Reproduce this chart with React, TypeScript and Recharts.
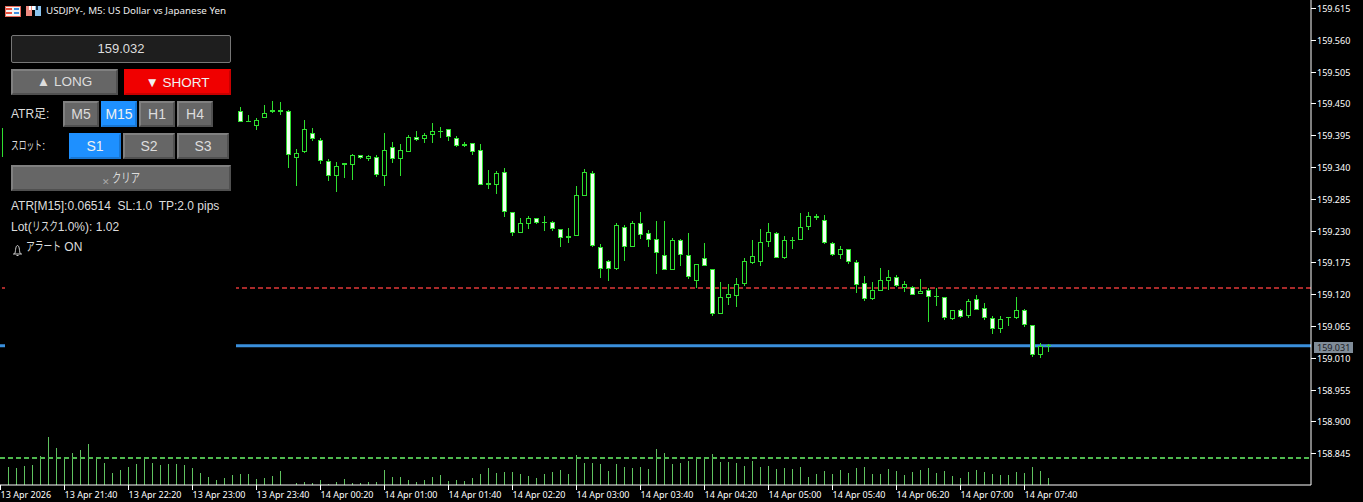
import { Bar, ComposedChart, Label, ReferenceLine, XAxis, YAxis } from 'recharts';

// bars behind the panel are not readable, only their volume is
const hidden = Array(29).fill(null);

const opens = [159.357, ...hidden,
  159.437, 159.419, 159.411, 159.424, 159.438, 159.438, 159.437, 159.356, 159.366, 159.398,
  159.386, 159.351, 159.325, 159.347, 159.344, 159.36, 159.354, 159.357, 159.325, 159.374,
  159.354, 159.366, 159.391, 159.388, 159.396, 159.403, 159.405, 159.39, 159.38, 159.381,
  159.369, 159.313, 159.309, 159.331, 159.262, 159.226, 159.242, 159.251, 159.245, 159.244,
  159.232, 159.221, 159.221, 159.29, 159.329, 159.201, 159.177, 159.164, 159.237, 159.201,
  159.243, 159.225, 159.215, 159.187, 159.161, 159.213, 159.187, 159.143, 159.182, 159.163,
  159.085, 159.113, 159.117, 159.137, 159.174, 159.175, 159.211, 159.225, 159.183, 159.214,
  159.213, 159.237, 159.256, 159.249, 159.208, 159.187, 159.198, 159.175, 159.139, 159.112,
  159.126, 159.143, 159.149, 159.13, 159.132, 159.121, 159.127, 159.117, 159.116, 159.077,
  159.092, 159.083, 159.111, 159.096, 159.078, 159.059, 159.08, 159.079, 159.092, 159.066,
  159.015, 159.032,
];
const highs = [159.407, ...hidden,
  159.443, 159.43, 159.425, 159.447, 159.454, 159.452, 159.438, 159.371, 159.421, 159.408,
  159.39, 159.354, 159.349, 159.347, 159.362, 159.361, 159.361, 159.361, 159.399, 159.383,
  159.379, 159.395, 159.402, 159.399, 159.416, 159.409, 159.406, 159.393, 159.383, 159.382,
  159.379, 159.335, 159.333, 159.338, 159.262, 159.251, 159.256, 159.252, 159.255, 159.246,
  159.233, 159.234, 159.307, 159.336, 159.333, 159.206, 159.179, 159.243, 159.239, 159.247,
  159.262, 159.231, 159.247, 159.247, 159.218, 159.216, 159.226, 159.173, 159.209, 159.163,
  159.141, 159.137, 159.148, 159.183, 159.214, 159.233, 159.243, 159.228, 159.22, 159.219,
  159.26, 159.262, 159.259, 159.257, 159.21, 159.203, 159.199, 159.179, 159.152, 159.141,
  159.165, 159.162, 159.153, 159.143, 159.135, 159.146, 159.13, 159.13, 159.116, 159.093,
  159.095, 159.111, 159.119, 159.105, 159.083, 159.082, 159.08, 159.115, 159.094, 159.066,
  159.035, 159.033,
];
const lows = [159.357, ...hidden,
  159.418, 159.417, 159.404, 159.424, 159.433, 159.43, 159.338, 159.307, 159.364, 159.385,
  159.346, 159.316, 159.296, 159.321, 159.317, 159.354, 159.35, 159.323, 159.307, 159.347,
  159.324, 159.366, 159.385, 159.381, 159.381, 159.39, 159.385, 159.375, 159.375, 159.361,
  159.309, 159.302, 159.293, 159.254, 159.221, 159.226, 159.233, 159.242, 159.23, 159.23,
  159.202, 159.209, 159.22, 159.29, 159.202, 159.148, 159.142, 159.161, 159.177, 159.201,
  159.216, 159.202, 159.155, 159.161, 159.161, 159.168, 159.147, 159.131, 159.168, 159.083,
  159.085, 159.101, 159.097, 159.135, 159.172, 159.169, 159.201, 159.182, 159.181, 159.198,
  159.213, 159.231, 159.248, 159.207, 159.186, 159.181, 159.172, 159.122, 159.109, 159.11,
  159.126, 159.127, 159.132, 159.124, 159.119, 159.121, 159.072, 159.1, 159.075, 159.075,
  159.079, 159.079, 159.093, 159.075, 159.051, 159.053, 159.065, 159.077, 159.063, 159.011,
  159.009, 159.02,
];
const closes = [159.407, ...hidden,
  159.418, 159.417, 159.422, 159.434, 159.435, 159.435, 159.36, 159.365, 159.405, 159.389,
  159.351, 159.325, 159.341, 159.344, 159.36, 159.356, 159.359, 159.327, 159.369, 159.353,
  159.37, 159.391, 159.387, 159.396, 159.402, 159.402, 159.391, 159.376, 159.377, 159.366,
  159.309, 159.309, 159.329, 159.263, 159.226, 159.243, 159.251, 159.243, 159.244, 159.232,
  159.218, 159.218, 159.291, 159.331, 159.204, 159.164, 159.164, 159.239, 159.201, 159.243,
  159.223, 159.214, 159.192, 159.162, 159.213, 159.188, 159.149, 159.173, 159.169, 159.085,
  159.115, 159.12, 159.137, 159.177, 159.186, 159.211, 159.227, 159.182, 159.213, 159.213,
  159.237, 159.256, 159.251, 159.209, 159.188, 159.198, 159.175, 159.136, 159.112, 159.128,
  159.144, 159.149, 159.135, 159.137, 159.119, 159.125, 159.115, 159.115, 159.078, 159.092,
  159.081, 159.108, 159.093, 159.078, 159.059, 159.077, 159.078, 159.092, 159.066, 159.015,
  159.03, 159.031,
];
const volumes = [
  0, 180, 170, 190, 200, 290, 480, 370, 280, 320,
  350, 410, 270, 220, 120, 150, 180, 210, 270, 220,
  200, 210, 210, 200, 170, 120, 80, 50, 70, 100,
  110, 110, 60, 70, 90, 140, 0, 20, 30, 20,
  50, 10, 30, 60, 20, 20, 30, 30, 150, 80,
  80, 50, 30, 50, 80, 100, 40, 50, 40, 70,
  110, 170, 120, 130, 130, 110, 90, 70, 110, 130,
  150, 110, 300, 220, 220, 210, 140, 210, 180, 170,
  180, 160, 360, 320, 210, 220, 240, 270, 270, 310,
  230, 230, 220, 190, 240, 180, 190, 160, 170, 160,
  180, 80, 110, 140, 110, 150, 120, 170, 180, 110,
  110, 160, 140, 100, 130, 150, 170, 120, 140, 90,
  70, 130, 150, 130, 110, 100, 100, 130, 120, 180,
  140, 70,
];
const timeLabels = [
  '13 Apr 2026', '13 Apr 21:40', '13 Apr 22:20', '13 Apr 23:00', '13 Apr 23:40', '14 Apr 00:20',
  '14 Apr 01:00', '14 Apr 01:40', '14 Apr 02:20', '14 Apr 03:00', '14 Apr 03:40', '14 Apr 04:20',
  '14 Apr 05:00', '14 Apr 05:40', '14 Apr 06:20', '14 Apr 07:00', '14 Apr 07:40',
];
const priceTicks = [
  159.615, 159.56, 159.505, 159.45, 159.395, 159.34, 159.285, 159.23, 159.175, 159.12,
  159.065, 159.01, 158.955, 158.9, 158.845,
];
const bid = 159.031;
const slotLine = 159.1307;
const volumeLine = 270;

const rows = volumes.map((volume, i) => ({
  i,
  volume,
  open: opens[i],
  high: highs[i],
  low: lows[i],
  close: closes[i],
  range: opens[i] == null ? null : [lows[i], highs[i]],
}));

const GREEN = '#2fe02f';
const BEAR_FILL = '#f2fff2';
const AXIS_FONT = '"Noto Sans", sans-serif';
const UI_FONT = '"Liberation Sans", "Noto Sans CJK JP", sans-serif';

function Candle(props: any) {
  const { x, y, width, height, payload } = props;
  if (payload.open == null) return null;
  const unit = height / (payload.high - payload.low);
  const yOf = (p: number) => y + (payload.high - p) * unit;
  const cx = Math.floor(x + width / 2);
  const top = Math.round(yOf(Math.max(payload.open, payload.close)));
  const bottom = Math.round(yOf(Math.min(payload.open, payload.close)));
  const bodyHeight = Math.max(bottom - top, 1);
  const wickTop = Math.round(y);
  return (
    <g shapeRendering="crispEdges">
      <rect x={cx} y={wickTop} width={1} height={Math.max(Math.round(y + height) - wickTop, 1)} fill={GREEN} />
      <rect x={cx - 2} y={top} width={5} height={bodyHeight} fill={GREEN} />
      {bodyHeight > 2 && (
        <rect
          x={cx - 1}
          y={top + 1}
          width={3}
          height={bodyHeight - 2}
          fill={payload.close < payload.open ? BEAR_FILL : '#000'}
        />
      )}
    </g>
  );
}

function VolumeBar(props: any) {
  const { x, y, width, height } = props;
  if (!height) return null;
  return <rect x={Math.floor(x + width / 2)} y={y} width={1} height={height} fill="#5fc25f" shapeRendering="crispEdges" />;
}

function TimeTick(props: any) {
  const { x, payload } = props;
  const px = Math.floor(x);
  return (
    <g>
      <rect x={px} y={485} width={1} height={5} fill="#fff" shapeRendering="crispEdges" />
      <text x={px + 0.5} y={498} fill="#fff" fontSize={9} fontFamily={AXIS_FONT} textAnchor="start">
        {timeLabels[payload.value / 8]}
      </text>
    </g>
  );
}

function PriceTick(props: any) {
  const { y, payload } = props;
  const py = Math.round(y);
  return (
    <g>
      <rect x={1311} y={py} width={5} height={1} fill="#fff" shapeRendering="crispEdges" />
      <text x={1317} y={py + 3.5} fill="#fff" fontSize={9} fontFamily={AXIS_FONT} textAnchor="start">
        {payload.value.toFixed(3)}
      </text>
    </g>
  );
}

function BidTag(props: any) {
  const y = Math.round(props.viewBox.y);
  return (
    <g>
      <rect x={1314} y={y - 4} width={39} height={11} fill="#808c98" shapeRendering="crispEdges" />
      <text x={1317} y={y + 4.5} fill="#1c2024" fontSize={9} fontFamily={AXIS_FONT}>
        {bid.toFixed(3)}
      </text>
    </g>
  );
}

const bevel = (bg: string, light: string, dark: string) => ({
  background: bg,
  borderTop: `2px solid ${light}`,
  borderLeft: `2px solid ${light}`,
  borderBottom: `2px solid ${dark}`,
  borderRight: `2px solid ${dark}`,
});

function Btn({ x, y, w, text, kind = 'grey', size = 14, line = 22 }: any) {
  const look =
    kind === 'blue' ? bevel('#1e90ff', '#1e90ff', '#1976d2') :
    kind === 'red' ? bevel('#f00000', '#f00000', '#c80000') :
    bevel('#666', '#808080', '#505050');
  return (
    <div
      style={{
        position: 'absolute', left: x, top: y, width: w, height: 26, boxSizing: 'border-box',
        ...look,
        color: kind === 'grey' ? '#ddd' : '#f0f0f0',
        fontSize: size, lineHeight: `${line}px`, textAlign: 'center', fontFamily: UI_FONT, whiteSpace: 'nowrap',
      }}
    >
      {text}
    </div>
  );
}

function PanelText({ x, y, children }: any) {
  return (
    <div style={{ position: 'absolute', left: x, top: y - 8, height: 16, lineHeight: '16px', color: '#ddd', fontSize: 12, fontFamily: UI_FONT, whiteSpace: 'pre' }}>
      {children}
    </div>
  );
}

// the terminal squeezes katakana into a narrow run, same height
function Kana({ w, size = 12, children }: any) {
  const n = String(children).length;
  return (
    <span style={{ display: 'inline-block', width: w, height: '1em', lineHeight: 1, verticalAlign: 'baseline', textAlign: 'left' }}>
      <span style={{ display: 'inline-block', fontSize: size, whiteSpace: 'nowrap', transformOrigin: 'left center', transform: `scaleX(${w / (n * size)})` }}>
        {children}
      </span>
    </span>
  );
}

function Panel() {
  return (
    <>
      <div style={{ position: 'absolute', left: 0, top: 120, width: 2, height: 45, background: '#000' }} />
      <div style={{ position: 'absolute', left: 5, top: 0, width: 231, height: 400, background: '#000' }}>
        <div style={{ position: 'absolute', left: -5, top: 0 }}>
          <svg width={44} height={20} style={{ position: 'absolute', left: 0, top: 0 }} shapeRendering="crispEdges">
            <rect x={5} y={6} width={15} height={10} fill="#f4f4f4" stroke="#e86a5a" />
            <rect x={6} y={8} width={6} height={2} fill="#e8503f" />
            <rect x={6} y={12} width={6} height={2} fill="#e8503f" />
            <rect x={14} y={8} width={5} height={2} fill="#3f8fe0" />
            <rect x={14} y={12} width={5} height={2} fill="#3f8fe0" />
            <rect x={26} y={6} width={6} height={10} fill="#ee8a80" />
            <rect x={29} y={6} width={2} height={4} fill="#fff" />
            <rect x={32} y={6} width={3} height={4} fill="#fff" />
            <rect x={35} y={6} width={6} height={10} fill="#8cc4ee" />
            <rect x={36} y={6} width={2} height={4} fill="#1c2c40" />
          </svg>
          <div style={{ position: 'absolute', left: 46, top: 4, fontSize: 9.8, lineHeight: '13px', color: '#eee', fontFamily: AXIS_FONT, whiteSpace: 'nowrap' }}>
            USDJPY-, M5:  US Dollar vs Japanese Yen
          </div>

          <div style={{ position: 'absolute', left: 11, top: 35, width: 220, height: 28, boxSizing: 'border-box', background: '#1e1e1e', border: '1px solid #777', borderRadius: 2, color: '#ddd', fontSize: 13, lineHeight: '26px', textAlign: 'center', fontFamily: UI_FONT }}>
            159.032
          </div>
          <Btn x={11} y={69} w={107} size={13.5} text="▲ LONG" />
          <Btn x={124} y={69} w={107} size={13.5} line={24} text="▼ SHORT" kind="red" />

          <PanelText x={11} y={114}>ATR足:</PanelText>
          <Btn x={63} y={101} w={36} text="M5" />
          <Btn x={101} y={101} w={36} text="M15" kind="blue" />
          <Btn x={139} y={101} w={36} text="H1" />
          <Btn x={177} y={101} w={36} text="H4" />

          <PanelText x={11} y={146}><Kana w={31}>スロット</Kana>:</PanelText>
          <Btn x={69} y={133} w={52} text="S1" kind="blue" />
          <Btn x={123} y={133} w={52} text="S2" />
          <Btn x={177} y={133} w={52} text="S3" />

          <Btn
            x={11}
            y={165}
            w={220}
            size={13}
            text={<><span style={{ fontSize: 9, color: '#aaa', verticalAlign: -3 }}>✕ </span><Kana w={28} size={13}>クリア</Kana></>}
          />

          <PanelText x={11} y={206}>{'ATR[M15]:0.06514  SL:1.0  TP:2.0 pips'}</PanelText>
          <PanelText x={11} y={227}>Lot(<Kana w={26}>リスク</Kana>1.0%): 1.02</PanelText>
          <svg width={12} height={12} style={{ position: 'absolute', left: 12, top: 244 }}>
            <path d="M1 10 H10 M2.5 10 C4 8 3 2 5.5 1.5 C8 2 7 8 8.5 10 M4.5 11.5 H6.5" stroke="#ccc" strokeWidth={1} fill="none" />
          </svg>
          <PanelText x={26} y={247}><Kana w={35}>アラート</Kana> ON</PanelText>
        </div>
      </div>
    </>
  );
}

export default function App() {
  return (
    <div style={{ position: 'absolute', left: 0, top: 0, width: 1363, height: 502, background: '#000', overflow: 'hidden' }}>
      <ComposedChart width={1363} height={502} data={rows} margin={{ top: 0, right: 0, bottom: 0, left: 0 }}>
        <XAxis
          xAxisId="time"
          dataKey="i"
          type="number"
          domain={[-0.0625, 163.8125]}
          allowDataOverflow
          ticks={timeLabels.map((_, n) => n * 8)}
          interval={0}
          height={17}
          stroke="#fff"
          tickLine={false}
          tick={<TimeTick />}
        />
        <XAxis xAxisId="vol" dataKey="i" type="number" domain={[-0.0625, 163.8125]} allowDataOverflow hide />
        <YAxis
          yAxisId="price"
          orientation="right"
          width={52}
          domain={[158.79, 159.6288]}
          allowDataOverflow
          ticks={priceTicks}
          interval={0}
          stroke="#fff"
          tickLine={false}
          tick={<PriceTick />}
        />
        <YAxis yAxisId="volume" domain={[0, 4850]} allowDataOverflow hide />
        <ReferenceLine xAxisId="time" yAxisId="price" y={slotLine} stroke="#a82a2a" strokeWidth={2} strokeDasharray="5 3" zIndex={100} />
        <ReferenceLine xAxisId="time" yAxisId="price" y={bid} stroke="#3a8fdc" strokeWidth={3} zIndex={100} label={<Label content={<BidTag />} />} />
        <ReferenceLine xAxisId="vol" yAxisId="volume" y={volumeLine} stroke="#4fb84f" strokeWidth={2} strokeDasharray="5 3" />
        <Bar xAxisId="vol" yAxisId="volume" dataKey="volume" barSize={1} shape={<VolumeBar />} isAnimationActive={false} />
        <Bar xAxisId="time" yAxisId="price" dataKey="range" barSize={5} shape={<Candle />} isAnimationActive={false} />
      </ComposedChart>
      <Panel />
    </div>
  );
}
